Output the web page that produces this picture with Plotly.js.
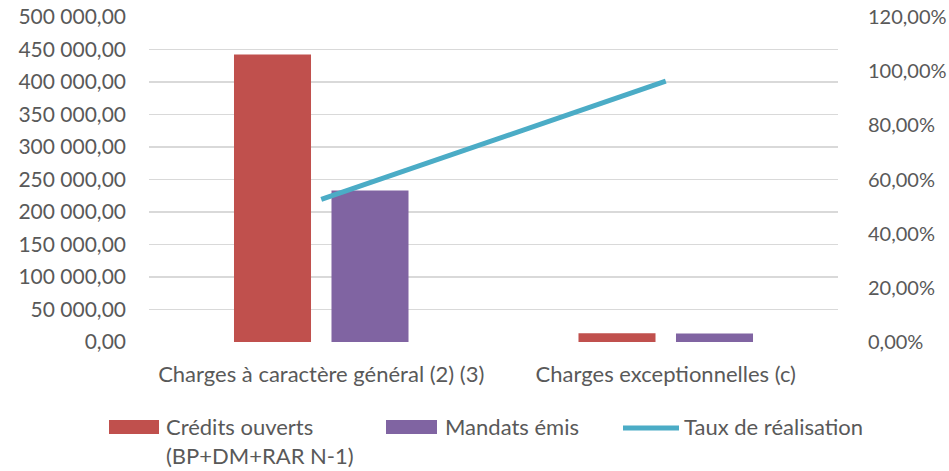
<!DOCTYPE html>
<html>
<head>
<meta charset="utf-8">
<script src="https://cdn.plot.ly/plotly-3.0.1.min.js"></script>
<style>
  html, body { margin: 0; padding: 0; background: #ffffff; }
  #chart { width: 949px; height: 471px; }
</style>
</head>
<body>
<div id="chart"></div>
<script>
// ---- data ----
const categories = ["Charges à caractère général (2) (3)", "Charges exceptionnelles (c)"];
const creditsOuverts = [442500, 13400];
const mandatsEmis = [233000, 12900];
const tauxRealisation = [0.5265, 0.963];
const seriesNames = ["Crédits ouverts<br>(BP+DM+RAR N-1)", "Mandats émis", "Taux de réalisation"];
const leftTicks = [0, 50000, 100000, 150000, 200000, 250000, 300000, 350000, 400000, 450000, 500000];
const rightTicks = [0, 0.2, 0.4, 0.6, 0.8, 1.0, 1.2];

// ---- style ----
const colors = ["#C0504D", "#8064A2", "#4BACC6"];
const textColor = "#595959";
const fontFamily = "Lato, 'Open Sans', sans-serif";
const W = 949, H = 471;
const L = 149, R = 838, T = 17, B = 342;
const px = x => (x - L) / (R - L);
const py = y => (B - y) / (B - T);

const traces = [
  { type: "bar", name: seriesNames[0], x: categories, y: creditsOuverts,
    marker: { color: colors[0] }, showlegend: false },
  { type: "bar", name: seriesNames[1], x: categories, y: mandatsEmis,
    marker: { color: colors[1] }, showlegend: false },
  { type: "scatter", mode: "lines", name: seriesNames[2], x: categories, y: tauxRealisation,
    yaxis: "y2", line: { color: colors[2], width: 5 }, showlegend: false }
];

// custom legend (wide swatches like the original)
const legendItems = [
  { sx0: 109, sx1: 159, tx: 164, kind: "rect" },
  { sx0: 386, sx1: 437, tx: 443, kind: "rect" },
  { sx0: 621, sx1: 681, tx: 682, kind: "line" }
];
const shapes = [];
const annotations = [];
legendItems.forEach((it, i) => {
  if (it.kind === "rect") {
    shapes.push({ type: "rect", xref: "paper", yref: "paper",
      x0: px(it.sx0), x1: px(it.sx1), y0: py(434), y1: py(420),
      fillcolor: colors[i], line: { width: 0 } });
  } else {
    shapes.push({ type: "line", xref: "paper", yref: "paper",
      x0: px(it.sx0 + 2), x1: px(it.sx1 - 2), y0: py(428), y1: py(428),
      line: { color: colors[i], width: 5 } });
  }
  annotations.push({ xref: "paper", yref: "paper", x: px(it.tx), y: py(411),
    xanchor: "left", yanchor: "top", align: "left", showarrow: false,
    text: seriesNames[i], font: { family: fontFamily, size: 22, color: textColor } });
});

const layout = {
  width: W, height: H,
  margin: { l: L, r: W - R, t: T, b: H - B, pad: 0 },
  paper_bgcolor: "#ffffff", plot_bgcolor: "#ffffff",
  separators: ", ",
  font: { family: fontFamily, size: 20, color: textColor },
  barmode: "group", bargap: 0.434, bargroupgap: 0.21,
  showlegend: false,
  xaxis: { type: "category", showgrid: false, showline: false, zeroline: false,
    ticks: "", ticklabelstandoff: 17, tickfont: { family: fontFamily, size: 22, color: textColor } },
  yaxis: { range: [0, 500000], tickvals: leftTicks, tickformat: ",.2f",
    showgrid: true, gridcolor: "#D9D9D9", gridwidth: 1.3, zeroline: false, showline: false,
    ticks: "", ticklabelstandoff: 22, tickfont: { family: fontFamily, size: 21, color: textColor } },
  yaxis2: { range: [0, 1.2], tickvals: rightTicks, tickformat: ".2%", overlaying: "y", side: "right",
    showgrid: false, zeroline: false, showline: false,
    ticks: "", ticklabelstandoff: 29, tickfont: { family: fontFamily, size: 20, color: textColor } },
  shapes: shapes,
  annotations: annotations
};

Plotly.newPlot("chart", traces, layout, { staticPlot: true, displayModeBar: false });
</script>
</body>
</html>
